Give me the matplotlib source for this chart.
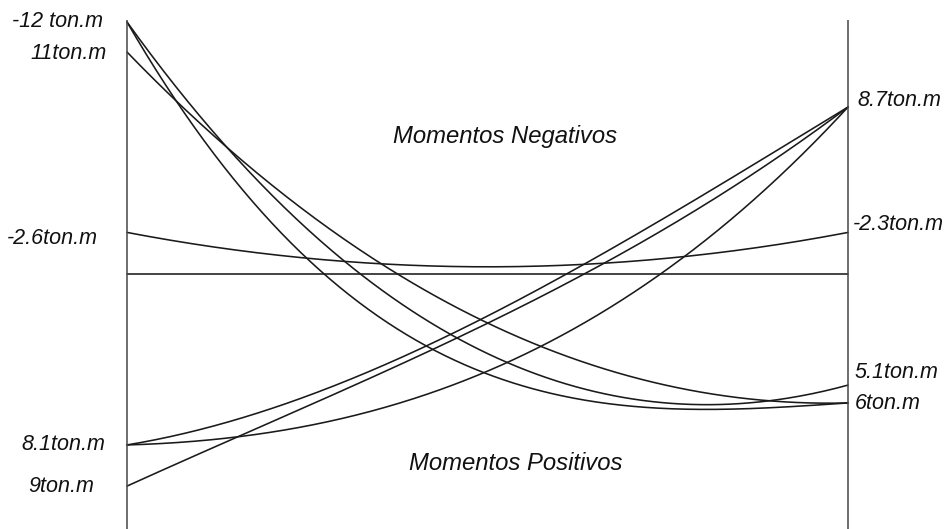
import numpy as np
import matplotlib
matplotlib.use('Agg')
from matplotlib import pyplot as plt

# stations along the span (fraction of length)
stations = [0.0, 0.25, 0.5, 0.75, 1.0]

# moment values (ton.m, negative plotted upward)
m_d1 = [-10.57, -3.05, 2.52, 5.19, 6.14]    # 11 -> 6
m_d2 = [-12.0, -2.19, 3.86, 6.10, 5.29]     # -12 -> 5.1
m_d3 = [-12.0, -0.76, 4.81, 6.38, 6.14]     # -12 -> 6
m_a1 = [8.14, 5.81, 2.00, -2.76, -7.95]     # 8.1 -> 8.7
m_a2 = [8.14, 7.43, 4.33, -0.05, -7.95]     # 8.1 -> 8.7
m_a3 = [10.10, 6.24, 2.43, -2.29, -7.95]    # 9 -> 8.7
m_n = [-1.98, -0.76, -0.33, -0.76, -1.98]   # -2.6 -> -2.3
m_base = [0.0, 0.0, 0.0, 0.0, 0.0]

curves = [m_d1, m_d2, m_d3, m_a1, m_a2, m_a3, m_n, m_base]

left_labels = ['-12 ton.m', '11ton.m', '-2.6ton.m', '8.1ton.m', '9ton.m']
left_values = [-12.0, -10.57, -1.98, 8.14, 10.10]
right_labels = ['8.7ton.m', '-2.3ton.m', '5.1ton.m', '6ton.m']
right_values = [-7.95, -1.98, 5.29, 6.14]

# label nudges in pixels (image y down)
left_dy = [0, 1, 6, 0, 0]
left_dx = [-24, -20, -29, -22, -33]
right_dy = [-7, -8, -13, 1]
right_dx = [9, 5, 7, 7]

W, H = 949, 529
x0_px, x1_px, base_px, scale = 127, 848, 274, 21.0

fig = plt.figure(figsize=(W / 100, H / 100), dpi=100)
ax = fig.add_axes([0, 0, 1, 1])
ax.axis('off')
span = x1_px - x0_px
ax.set_xlim(-x0_px / span, (W - x0_px) / span)
ax.set_ylim((H - base_px) / scale, -base_px / scale)

lc = '#1a1a1a'
xs = np.linspace(0, 1, 300)
# cubic fit, ends held almost fixed
wts = [20, 1, 1, 1, 20]
for c in curves:
    p = np.polyfit(stations, c, 3, w=wts)
    ax.plot(xs, np.polyval(p, xs), color=lc, lw=1.15, solid_capstyle='round')

top = (20 - base_px) / scale
bot = (H + 2 - base_px) / scale
ax.vlines([0, 1], top, bot, color='#474747', lw=1.1)

font = dict(family='Liberation Sans', style='italic', color='#111111')
for lab, v, dy, dx in zip(left_labels, left_values, left_dy, left_dx):
    ax.annotate(lab, xy=(0, v), xytext=(dx, -dy), textcoords='offset pixels',
                ha='right', va='center', fontsize=15.5, **font)
for lab, v, dy, dx in zip(right_labels, right_values, right_dy, right_dx):
    ax.annotate(lab, xy=(1, v), xytext=(dx, -dy), textcoords='offset pixels',
                ha='left', va='center', fontsize=15.5, **font)

ax.text(505 / W, 1 - 136 / H, 'Momentos Negativos', transform=ax.transAxes,
        ha='center', va='center', fontsize=17.2, **font)
ax.text(516 / W, 1 - 463 / H, 'Momentos Positivos', transform=ax.transAxes,
        ha='center', va='center', fontsize=17.2, **font)

fig.savefig('out.png', dpi=100, facecolor='white')
